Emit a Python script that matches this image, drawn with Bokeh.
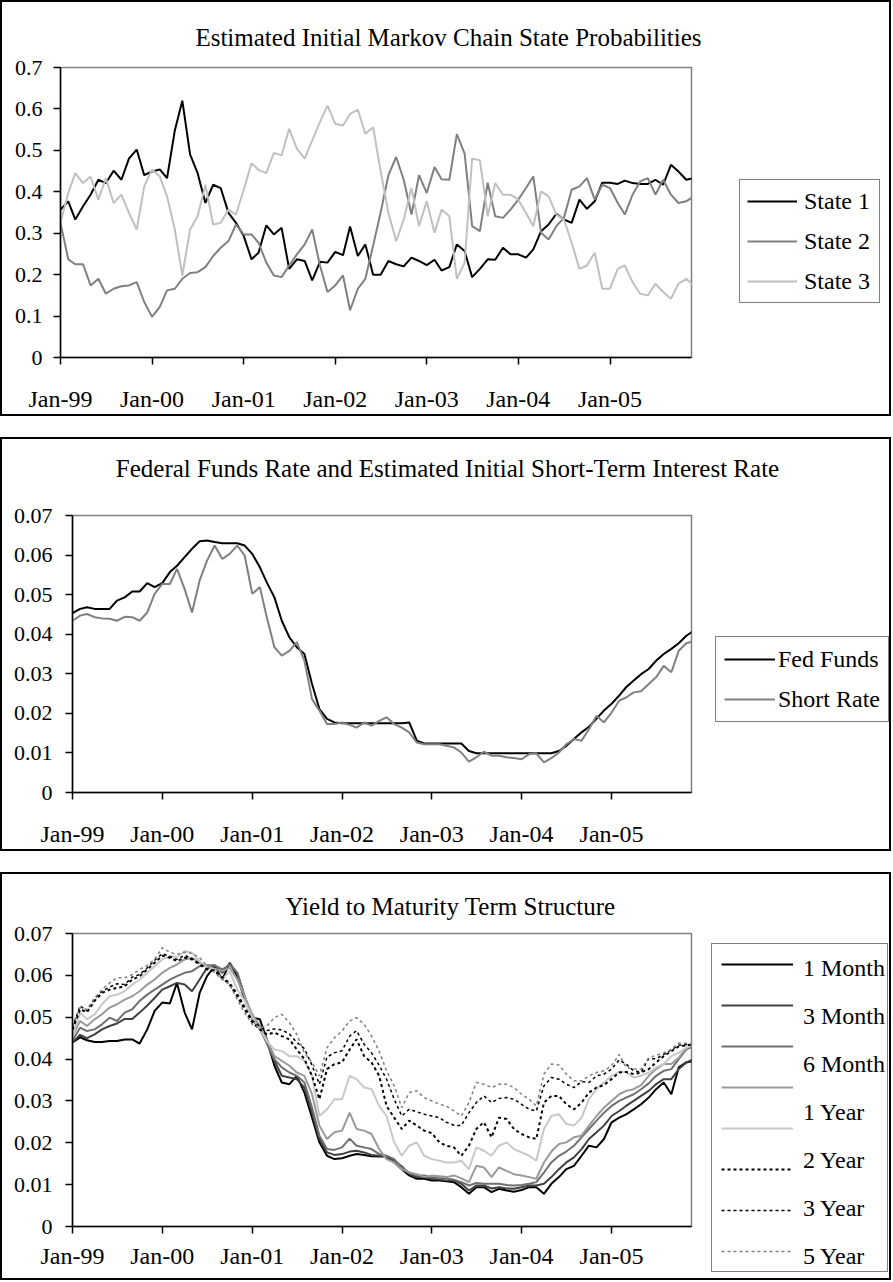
import pandas as pd
from bokeh.plotting import figure
from bokeh.models import (FixedTicker, DatetimeTickFormatter, Range1d, Legend,
                          LegendItem, Label)
from bokeh.layouts import column, row
from bokeh.embed import file_html
from bokeh.resources import INLINE

FONT = "Liberation Serif"

# ---------------- data ----------------
months = pd.date_range("1999-01-01", periods=84, freq="MS")
x_tick_dates = pd.date_range("1999-01-01", periods=7, freq="YS")
x_tick_labels = ["Jan-99", "Jan-00", "Jan-01", "Jan-02", "Jan-03", "Jan-04", "Jan-05"]

prob_ticks = [0, 0.1, 0.2, 0.3, 0.4, 0.5, 0.6, 0.7]
prob_tick_labels = ["0", "0.1", "0.2", "0.3", "0.4", "0.5", "0.6", "0.7"]
rate_ticks = [0, 0.01, 0.02, 0.03, 0.04, 0.05, 0.06, 0.07]
rate_tick_labels = ["0", "0.01", "0.02", "0.03", "0.04", "0.05", "0.06", "0.07"]

state_1 = [0.357, 0.377, 0.333, 0.365, 0.393, 0.429, 0.421, 0.451, 0.429, 0.480, 0.502, 0.440,
           0.449, 0.454, 0.433, 0.548, 0.620, 0.490, 0.445, 0.373, 0.417, 0.409, 0.349, 0.325,
           0.293, 0.237, 0.253, 0.319, 0.297, 0.313, 0.214, 0.237, 0.233, 0.186, 0.231, 0.229,
           0.255, 0.247, 0.316, 0.245, 0.273, 0.200, 0.200, 0.233, 0.225, 0.220, 0.241, 0.233,
           0.223, 0.236, 0.210, 0.218, 0.273, 0.257, 0.194, 0.214, 0.237, 0.236, 0.265, 0.249,
           0.249, 0.241, 0.261, 0.305, 0.321, 0.347, 0.333, 0.325, 0.381, 0.359, 0.377, 0.422,
           0.422, 0.419, 0.427, 0.421, 0.419, 0.419, 0.429, 0.417, 0.465, 0.449, 0.429, 0.433]
state_2 = [0.325, 0.237, 0.225, 0.225, 0.174, 0.190, 0.154, 0.166, 0.172, 0.174, 0.182, 0.134,
           0.098, 0.122, 0.162, 0.166, 0.190, 0.204, 0.206, 0.218, 0.245, 0.265, 0.281, 0.321,
           0.297, 0.297, 0.277, 0.229, 0.198, 0.194, 0.222, 0.249, 0.273, 0.309, 0.222, 0.158,
           0.174, 0.198, 0.114, 0.166, 0.190, 0.270, 0.350, 0.440, 0.484, 0.429, 0.345, 0.440,
           0.397, 0.460, 0.430, 0.429, 0.539, 0.492, 0.317, 0.305, 0.422, 0.341, 0.337, 0.357,
           0.381, 0.409, 0.437, 0.301, 0.285, 0.317, 0.337, 0.405, 0.413, 0.433, 0.381, 0.417,
           0.409, 0.373, 0.345, 0.393, 0.425, 0.433, 0.393, 0.429, 0.393, 0.373, 0.377, 0.389]
state_3 = [0.325, 0.397, 0.445, 0.421, 0.437, 0.381, 0.433, 0.373, 0.393, 0.349, 0.309, 0.413,
           0.454, 0.437, 0.389, 0.309, 0.198, 0.309, 0.341, 0.417, 0.321, 0.325, 0.357, 0.345,
           0.405, 0.469, 0.453, 0.445, 0.494, 0.488, 0.552, 0.504, 0.480, 0.524, 0.568, 0.608,
           0.564, 0.560, 0.588, 0.598, 0.540, 0.556, 0.450, 0.349, 0.281, 0.333, 0.409, 0.317,
           0.377, 0.301, 0.357, 0.341, 0.190, 0.229, 0.480, 0.476, 0.341, 0.421, 0.393, 0.393,
           0.381, 0.349, 0.317, 0.401, 0.389, 0.345, 0.333, 0.277, 0.214, 0.222, 0.253, 0.166,
           0.166, 0.214, 0.222, 0.182, 0.154, 0.150, 0.178, 0.158, 0.142, 0.178, 0.190, 0.174]

fed_funds = [0.0453, 0.0464, 0.0468, 0.0464, 0.0464, 0.0464, 0.0485, 0.0493, 0.0508, 0.0508, 0.0529, 0.0519,
             0.0529, 0.0557, 0.0573, 0.0595, 0.0616, 0.0635, 0.0637, 0.0633, 0.0630, 0.0630, 0.0630, 0.0624,
             0.0603, 0.0569, 0.0531, 0.0493, 0.0434, 0.0392, 0.0367, 0.0350, 0.0274, 0.0211, 0.0186, 0.0177,
             0.0175, 0.0175, 0.0175, 0.0175, 0.0175, 0.0175, 0.0175, 0.0175, 0.0175, 0.0177, 0.0131, 0.0124,
             0.0124, 0.0124, 0.0124, 0.0124, 0.0124, 0.0105, 0.0099, 0.0099, 0.0099, 0.0099, 0.0099, 0.0099,
             0.0099, 0.0099, 0.0099, 0.0099, 0.0099, 0.0105, 0.0118, 0.0135, 0.0152, 0.0166, 0.0187, 0.0207,
             0.0224, 0.0245, 0.0266, 0.0283, 0.0299, 0.0312, 0.0333, 0.0350, 0.0363, 0.0377, 0.0396, 0.0409]
short_rate = [0.0434, 0.0447, 0.0451, 0.0443, 0.0440, 0.0439, 0.0434, 0.0444, 0.0443, 0.0434, 0.0455, 0.0502,
              0.0527, 0.0527, 0.0565, 0.0514, 0.0455, 0.0536, 0.0586, 0.0624, 0.0590, 0.0603, 0.0624, 0.0599,
              0.0502, 0.0519, 0.0443, 0.0367, 0.0346, 0.0358, 0.0380, 0.0333, 0.0236, 0.0207, 0.0173, 0.0173,
              0.0177, 0.0171, 0.0164, 0.0177, 0.0169, 0.0181, 0.0190, 0.0173, 0.0164, 0.0152, 0.0126, 0.0122,
              0.0122, 0.0122, 0.0118, 0.0114, 0.0101, 0.0078, 0.0089, 0.0103, 0.0093, 0.0093, 0.0089, 0.0087,
              0.0084, 0.0097, 0.0099, 0.0076, 0.0087, 0.0101, 0.0122, 0.0135, 0.0131, 0.0160, 0.0194, 0.0177,
              0.0202, 0.0232, 0.0240, 0.0253, 0.0256, 0.0274, 0.0291, 0.0320, 0.0304, 0.0358, 0.0377, 0.0382]

ytm_1m = [0.0440, 0.0452, 0.0445, 0.0441, 0.0441, 0.0443, 0.0443, 0.0447, 0.0447, 0.0437, 0.0471, 0.0515,
          0.0535, 0.0533, 0.0582, 0.0511, 0.0471, 0.0558, 0.0598, 0.0622, 0.0590, 0.0630, 0.0598, 0.0542,
          0.0499, 0.0495, 0.0447, 0.0384, 0.0344, 0.0340, 0.0360, 0.0320, 0.0260, 0.0201, 0.0169, 0.0161,
          0.0163, 0.0169, 0.0173, 0.0171, 0.0168, 0.0167, 0.0167, 0.0153, 0.0137, 0.0122, 0.0114, 0.0114,
          0.0110, 0.0110, 0.0108, 0.0106, 0.0094, 0.0078, 0.0094, 0.0094, 0.0082, 0.0090, 0.0086, 0.0083,
          0.0087, 0.0094, 0.0094, 0.0078, 0.0102, 0.0118, 0.0137, 0.0145, 0.0169, 0.0193, 0.0189, 0.0209,
          0.0249, 0.0260, 0.0268, 0.0280, 0.0292, 0.0308, 0.0328, 0.0344, 0.0316, 0.0380, 0.0392, 0.0396]
ytm_3m = [0.0440, 0.0458, 0.0450, 0.0459, 0.0471, 0.0479, 0.0485, 0.0496, 0.0496, 0.0511, 0.0528, 0.0546,
          0.0566, 0.0574, 0.0582, 0.0578, 0.0562, 0.0590, 0.0618, 0.0624, 0.0606, 0.0628, 0.0606, 0.0550,
          0.0495, 0.0471, 0.0439, 0.0396, 0.0360, 0.0356, 0.0352, 0.0332, 0.0272, 0.0209, 0.0177, 0.0171,
          0.0173, 0.0179, 0.0181, 0.0177, 0.0171, 0.0169, 0.0168, 0.0157, 0.0144, 0.0125, 0.0118, 0.0118,
          0.0114, 0.0112, 0.0110, 0.0110, 0.0102, 0.0086, 0.0098, 0.0098, 0.0091, 0.0094, 0.0091, 0.0090,
          0.0094, 0.0098, 0.0098, 0.0102, 0.0118, 0.0137, 0.0153, 0.0165, 0.0185, 0.0209, 0.0225, 0.0241,
          0.0264, 0.0276, 0.0288, 0.0300, 0.0312, 0.0324, 0.0340, 0.0352, 0.0352, 0.0376, 0.0392, 0.0400]
ytm_6m = [0.0445, 0.0475, 0.0467, 0.0471, 0.0483, 0.0499, 0.0491, 0.0511, 0.0519, 0.0539, 0.0554, 0.0566,
          0.0578, 0.0590, 0.0598, 0.0606, 0.0610, 0.0622, 0.0624, 0.0624, 0.0614, 0.0626, 0.0606, 0.0550,
          0.0499, 0.0479, 0.0439, 0.0400, 0.0380, 0.0368, 0.0360, 0.0344, 0.0284, 0.0217, 0.0185, 0.0183,
          0.0189, 0.0210, 0.0193, 0.0189, 0.0185, 0.0173, 0.0169, 0.0161, 0.0141, 0.0129, 0.0122, 0.0122,
          0.0118, 0.0115, 0.0115, 0.0112, 0.0106, 0.0098, 0.0104, 0.0102, 0.0102, 0.0102, 0.0099, 0.0098,
          0.0099, 0.0102, 0.0106, 0.0129, 0.0153, 0.0169, 0.0179, 0.0193, 0.0213, 0.0233, 0.0253, 0.0272,
          0.0288, 0.0300, 0.0308, 0.0316, 0.0328, 0.0342, 0.0360, 0.0372, 0.0376, 0.0400, 0.0423, 0.0431]
ytm_1y = [0.0455, 0.0491, 0.0479, 0.0495, 0.0507, 0.0523, 0.0531, 0.0542, 0.0550, 0.0562, 0.0578, 0.0590,
          0.0606, 0.0618, 0.0626, 0.0638, 0.0642, 0.0630, 0.0622, 0.0616, 0.0610, 0.0618, 0.0590, 0.0550,
          0.0507, 0.0479, 0.0447, 0.0407, 0.0396, 0.0384, 0.0368, 0.0360, 0.0316, 0.0241, 0.0209, 0.0225,
          0.0229, 0.0272, 0.0233, 0.0229, 0.0221, 0.0185, 0.0161, 0.0153, 0.0137, 0.0129, 0.0125, 0.0118,
          0.0122, 0.0120, 0.0118, 0.0122, 0.0115, 0.0106, 0.0145, 0.0141, 0.0118, 0.0141, 0.0133, 0.0125,
          0.0122, 0.0118, 0.0114, 0.0153, 0.0179, 0.0197, 0.0201, 0.0213, 0.0217, 0.0241, 0.0264, 0.0284,
          0.0300, 0.0316, 0.0324, 0.0328, 0.0338, 0.0360, 0.0376, 0.0388, 0.0388, 0.0403, 0.0427, 0.0435]
ytm_2y = [0.0455, 0.0511, 0.0495, 0.0507, 0.0531, 0.0550, 0.0554, 0.0562, 0.0578, 0.0590, 0.0606, 0.0622,
          0.0638, 0.0646, 0.0644, 0.0658, 0.0654, 0.0634, 0.0618, 0.0614, 0.0590, 0.0610, 0.0566, 0.0539,
          0.0499, 0.0471, 0.0443, 0.0423, 0.0419, 0.0407, 0.0407, 0.0396, 0.0360, 0.0264, 0.0280, 0.0304,
          0.0304, 0.0360, 0.0352, 0.0332, 0.0328, 0.0288, 0.0264, 0.0201, 0.0169, 0.0193, 0.0201, 0.0169,
          0.0161, 0.0157, 0.0153, 0.0153, 0.0157, 0.0137, 0.0189, 0.0181, 0.0169, 0.0193, 0.0201, 0.0185,
          0.0177, 0.0169, 0.0157, 0.0233, 0.0264, 0.0268, 0.0245, 0.0241, 0.0260, 0.0304, 0.0328, 0.0344,
          0.0360, 0.0369, 0.0369, 0.0356, 0.0360, 0.0368, 0.0380, 0.0388, 0.0407, 0.0415, 0.0427, 0.0435]
ytm_3y = [0.0470, 0.0519, 0.0512, 0.0539, 0.0558, 0.0566, 0.0570, 0.0574, 0.0590, 0.0598, 0.0614, 0.0630,
          0.0647, 0.0642, 0.0634, 0.0642, 0.0638, 0.0626, 0.0614, 0.0610, 0.0594, 0.0578, 0.0550, 0.0519,
          0.0487, 0.0471, 0.0459, 0.0463, 0.0455, 0.0447, 0.0423, 0.0400, 0.0360, 0.0304, 0.0376, 0.0388,
          0.0392, 0.0423, 0.0447, 0.0407, 0.0392, 0.0360, 0.0288, 0.0260, 0.0233, 0.0253, 0.0241, 0.0229,
          0.0223, 0.0201, 0.0193, 0.0189, 0.0169, 0.0193, 0.0233, 0.0249, 0.0213, 0.0260, 0.0257, 0.0233,
          0.0221, 0.0213, 0.0209, 0.0296, 0.0312, 0.0312, 0.0292, 0.0280, 0.0296, 0.0320, 0.0332, 0.0338,
          0.0352, 0.0368, 0.0369, 0.0364, 0.0368, 0.0376, 0.0392, 0.0407, 0.0419, 0.0430, 0.0433, 0.0435]
ytm_5y = [0.0475, 0.0527, 0.0515, 0.0545, 0.0562, 0.0572, 0.0580, 0.0578, 0.0596, 0.0602, 0.0618, 0.0636,
          0.0652, 0.0645, 0.0638, 0.0648, 0.0640, 0.0628, 0.0616, 0.0612, 0.0596, 0.0582, 0.0556, 0.0525,
          0.0492, 0.0478, 0.0468, 0.0472, 0.0470, 0.0460, 0.0440, 0.0425, 0.0385, 0.0340, 0.0405, 0.0415,
          0.0420, 0.0455, 0.0468, 0.0435, 0.0415, 0.0385, 0.0352, 0.0304, 0.0264, 0.0280, 0.0274, 0.0268,
          0.0264, 0.0260, 0.0249, 0.0242, 0.0241, 0.0272, 0.0296, 0.0312, 0.0296, 0.0306, 0.0308, 0.0304,
          0.0292, 0.0280, 0.0276, 0.0336, 0.0356, 0.0352, 0.0340, 0.0332, 0.0346, 0.0344, 0.0360, 0.0364,
          0.0376, 0.0398, 0.0388, 0.0372, 0.0369, 0.0401, 0.0401, 0.0411, 0.0422, 0.0433, 0.0435, 0.0435]
# eighth (longest) maturity: its legend label is not visible in the source
ytm_long = [0.0480, 0.0523, 0.0519, 0.0546, 0.0566, 0.0582, 0.0594, 0.0594, 0.0602, 0.0614, 0.0624, 0.0638,
            0.0666, 0.0655, 0.0650, 0.0655, 0.0652, 0.0642, 0.0622, 0.0606, 0.0590, 0.0578, 0.0542, 0.0511,
            0.0483, 0.0475, 0.0479, 0.0499, 0.0507, 0.0487, 0.0459, 0.0415, 0.0392, 0.0360, 0.0427, 0.0451,
            0.0467, 0.0491, 0.0499, 0.0483, 0.0455, 0.0419, 0.0372, 0.0336, 0.0284, 0.0320, 0.0324, 0.0308,
            0.0300, 0.0292, 0.0288, 0.0276, 0.0264, 0.0296, 0.0344, 0.0340, 0.0332, 0.0340, 0.0340, 0.0332,
            0.0316, 0.0304, 0.0288, 0.0364, 0.0388, 0.0386, 0.0364, 0.0348, 0.0348, 0.0360, 0.0368, 0.0372,
            0.0384, 0.0411, 0.0380, 0.0376, 0.0376, 0.0403, 0.0409, 0.0415, 0.0423, 0.0438, 0.0438, 0.0435]

state_labels = ["State 1", "State 2", "State 3"]
rate_labels = ["Fed Funds", "Short Rate"]
ytm_labels = ["1 Month", "3 Month", "6 Month", "1 Year", "2 Year", "3 Year", "5 Year"]

# ---------------- helpers ----------------
X_START = pd.Timestamp("1999-01-01")
X_END = pd.Timestamp("2005-11-22")
x_tick_ms = [int(d.value // 10**6) for d in x_tick_dates]
W = 887          # inner width of each bordered panel
WM = 700         # width of the chart part
WL = W - WM      # width of the legend part
FRAME_RIGHT = 689


def blank_fig(width, height, x_range=None, y_range=None):
    p = figure(width=width, height=height,
               x_range=x_range if x_range is not None else Range1d(0, 1),
               y_range=y_range if y_range is not None else Range1d(0, 1),
               x_axis_location=None, y_axis_location=None, min_border=0,
               output_backend="svg", toolbar_location=None,
               background_fill_color="white", border_fill_color="white")
    p.outline_line_color = None
    p.grid.visible = False
    return p


def legend_fig(height):
    # legend area: same x scale as the chart, y window placed above the data so
    # that the key lines only serve the legend
    return blank_fig(WL, height, Range1d(X_START, X_END), Range1d(1, 2))


def title_fig(height, text, cx, cy):
    p = blank_fig(W, height)
    p.add_layout(Label(x=cx, y=height - cy, x_units="screen", y_units="screen", text=text,
                       text_align="center", text_baseline="middle",
                       text_font=FONT, text_font_size="25px", text_color="black"))
    return p


def chart_fig(height, left, top, bottom, y_end, y_ticks, y_labels, y_standoff, x_standoff):
    p = figure(width=WM, height=height, x_axis_type="datetime",
               x_range=Range1d(X_START, X_END), y_range=Range1d(0, y_end),
               output_backend="svg", toolbar_location=None,
               min_border_left=left, min_border_right=WM - FRAME_RIGHT,
               min_border_top=top, min_border_bottom=bottom,
               background_fill_color="white", border_fill_color="white")
    p.xgrid.visible = False
    p.ygrid.visible = False
    p.outline_line_color = "#808080"
    p.outline_line_width = 1.5
    p.xaxis.ticker = FixedTicker(ticks=x_tick_ms)
    fmt = "%b-%y"
    p.xaxis.formatter = DatetimeTickFormatter(years=fmt, months=fmt, days=fmt, hours=fmt,
                                              minutes=fmt, seconds=fmt, milliseconds=fmt,
                                              microseconds=fmt)
    p.xaxis.major_label_overrides = dict(zip(x_tick_ms, x_tick_labels))
    p.yaxis.ticker = FixedTicker(ticks=y_ticks)
    p.yaxis.major_label_overrides = dict(zip(y_ticks, y_labels))
    for ax in (p.xaxis[0], p.yaxis[0]):
        ax.axis_line_color = "black"
        ax.axis_line_width = 1.5
        ax.major_tick_line_color = "black"
        ax.major_tick_line_width = 1.5
        ax.major_tick_in = 0
        ax.major_tick_out = 7
        ax.minor_tick_line_color = None
        ax.major_label_text_font = FONT
        ax.major_label_text_color = "black"
    p.xaxis.major_label_text_font_size = "24px"
    p.yaxis.major_label_text_font_size = "22px"
    p.yaxis.major_label_standoff = y_standoff
    p.xaxis.major_label_standoff = x_standoff
    return p


def style_legend(leg):
    leg.border_line_color = "black"
    leg.border_line_width = 1.5
    leg.background_fill_color = "white"
    leg.background_fill_alpha = 1.0
    leg.label_text_font = FONT
    leg.label_text_font_size = "24px"
    leg.label_text_color = "black"
    leg.margin = 0


def panel(tfig, cfig, lfig):
    return column(tfig, row(column(cfig), column(lfig)),
                  styles={"border": "2px solid black"})


# ---------------- panel 1 ----------------
T1, H1 = 50, 362
t1 = title_fig(T1, "Estimated Initial Markov Chain State Probabilities", 446, 35)
c1 = chart_fig(H1, 58, 15, 56, 0.7, prob_ticks, prob_tick_labels, 11, 21)
l1 = legend_fig(H1)
series1 = [state_1, state_2, state_3]
styles1 = [("black", 2, "solid"), ("#808080", 2, "solid"), ("#c0c0c0", 2, "solid")]
keys1 = []
for vals, (col, lw, dash) in zip(series1, styles1):
    c1.line(months, vals, line_color=col, line_width=lw, line_dash=dash)
    keys1.append(l1.line(months, vals, line_color=col, line_width=lw, line_dash=dash))
leg1 = Legend(items=[LegendItem(label=t, renderers=[k]) for t, k in zip(state_labels, keys1)],
              location=(37, 111))
style_legend(leg1)
leg1.glyph_width = 50
leg1.glyph_height = 28
leg1.label_height = 28
leg1.label_width = 68
leg1.label_standoff = 7
leg1.padding = 7
leg1.spacing = 12
l1.add_layout(leg1)

# ---------------- panel 2 ----------------
T2, H2 = 60, 350
t2 = title_fig(T2, "Federal Funds Rate and Estimated Initial Short-Term Interest Rate", 445, 29)
c2 = chart_fig(H2, 70, 16, 57, 0.07, rate_ticks, rate_tick_labels, 13, 21)
l2 = legend_fig(H2)
series2 = [fed_funds, short_rate]
styles2 = [("black", 2, "solid"), ("#808080", 2, "solid")]
keys2 = []
for vals, (col, lw, dash) in zip(series2, styles2):
    c2.line(months, vals, line_color=col, line_width=lw, line_dash=dash)
    keys2.append(l2.line(months, vals, line_color=col, line_width=lw, line_dash=dash))
leg2 = Legend(items=[LegendItem(label=t, renderers=[k]) for t, k in zip(rate_labels, keys2)],
              location=(13, 127))
style_legend(leg2)
leg2.glyph_width = 51
leg2.glyph_height = 28
leg2.label_height = 28
leg2.label_width = 102
leg2.label_standoff = 3
leg2.padding = 8
leg2.spacing = 12
l2.add_layout(leg2)

# ---------------- panel 3 ----------------
T3, H3 = 46, 358
t3 = title_fig(T3, "Yield to Maturity Term Structure", 448, 32)
c3 = chart_fig(H3, 70, 13, 52, 0.07, rate_ticks, rate_tick_labels, 13, 9)
l3 = legend_fig(H3)
series3 = [ytm_1m, ytm_3m, ytm_6m, ytm_1y, ytm_2y, ytm_3y, ytm_5y, ytm_long]
styles3 = [("black", 2, "solid"), ("#404040", 2, "solid"), ("#707070", 2, "solid"),
           ("#9a9a9a", 2, "solid"), ("#c8c8c8", 2, "solid"), ("black", 2, "3 3"),
           ("black", 1.5, "3 3"), ("#808080", 1.5, "3 3")]
keys3 = []
for vals, (col, lw, dash) in zip(series3, styles3):
    c3.line(months, vals, line_color=col, line_width=lw, line_dash=dash)
    keys3.append(l3.line(months, vals, line_color=col, line_width=lw, line_dash=dash))
# line samples, one per series (label texts are laid out by the second legend)
leg3a = Legend(items=[LegendItem(label="", renderers=[k]) for k in keys3], location=(9, 6))
style_legend(leg3a)
leg3a.label_text_font_size = "6px"
leg3a.glyph_width = 72
leg3a.glyph_height = 22
leg3a.label_height = 22
leg3a.label_width = 75
leg3a.label_standoff = 10
leg3a.padding = 9
leg3a.spacing = 19
l3.add_layout(leg3a)
blank_keys = [l3.line(x=[], y=[], line_alpha=0) for _ in ytm_labels]
leg3b = Legend(items=[LegendItem(label=t, renderers=[k]) for t, k in zip(ytm_labels, blank_keys)],
               location=(100, 7))
style_legend(leg3b)
leg3b.border_line_color = None
leg3b.background_fill_alpha = 0
leg3b.glyph_width = 1
leg3b.glyph_height = 30
leg3b.label_height = 30
leg3b.label_width = 80
leg3b.label_standoff = 0
leg3b.padding = 0
leg3b.spacing = 18
l3.add_layout(leg3b)

layout = column(panel(t1, c1, l1), panel(t2, c2, l2), panel(t3, c3, l3), spacing=21)
open("out.html", "w").write(file_html(layout, INLINE))
